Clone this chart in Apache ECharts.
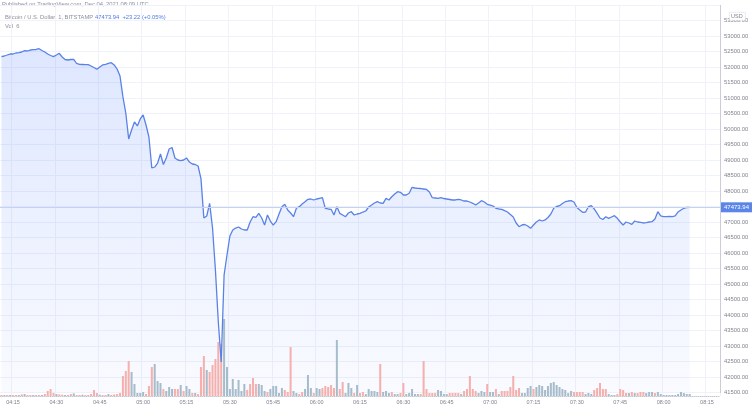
<!DOCTYPE html>
<html><head><meta charset="utf-8">
<script src="https://cdn.jsdelivr.net/npm/echarts@6/dist/echarts.min.js"></script>
<style>html,body{margin:0;padding:0;background:#fff}#c{width:755px;height:413px}</style>
</head><body><div id="c"></div>
<script>
// ---- data ----
const startMinute = '04:11';
const endMinute = '08:19';
const tickLabels = ['04:15','04:30','04:45','05:00','05:15','05:30','05:45','06:00','06:15','06:30','06:45','07:00','07:15','07:30','07:45','08:00','08:15'];
const priceTicks = {min: 41500, max: 54000, step: 500};
const lastPrice = 47473.94;

const closes = [
52333,52355,52387,52419,52419,52452,52461,52484,52526,52516,
52548,52558,52565,52590,52532,52484,52419,52371,52333,52387,
52442,52323,52242,52226,52242,52248,52113,52087,52081,52074,
52074,52032,51984,51926,52000,52065,52087,52113,52139,52065,
51935,51710,51042,50516,49677,49968,50226,50097,50323,50452,
50129,49742,48742,48774,48903,49194,48855,49065,49355,49403,
49065,49000,48977,49000,49065,48935,48871,48855,48806,48400,
47129,47194,47600,46806,45452,43774,42484,45290,45935,46548,
46742,46806,46839,46774,46742,46742,47000,47171,47150,47280,
47129,46903,47226,47032,46903,47010,47258,47494,47571,47387,
47290,47171,47442,47494,47580,47655,47732,47742,47710,47742,
47764,47784,47442,47420,47410,47226,47494,47280,47226,47171,
47290,47332,47226,47258,47280,47322,47355,47484,47548,47613,
47655,47613,47603,47764,47710,47816,47903,47978,47958,47871,
47871,47926,48119,48097,48087,48080,48065,48050,47968,47784,
47774,47764,47784,47758,47742,47726,47710,47710,47732,47710,
47677,47677,47645,47603,47548,47613,47687,47645,47571,47548,
47516,47442,47420,47410,47365,47323,47242,47161,46968,46848,
46903,46919,46871,46796,46903,47000,47065,47032,47065,47145,
47258,47442,47500,47526,47597,47655,47677,47687,47645,47468,
47387,47313,47322,47494,47526,47420,47280,47129,47081,47171,
47119,47161,47203,47119,47000,46903,47000,46968,46925,47032,
47000,46990,46968,46977,47000,47010,47097,47332,47194,47171,
47171,47178,47171,47194,47323,47387,47442,47468,47473.94
];

const volumes = [
3,3,3,3,3,3,3,5,6,3,
3,3,3,3,3,6,15,21,9,6,
5,4,3,3,6,8,3,3,4,3,
3,6,18,9,4,3,3,6,3,5,
6,9,60,75,105,72,36,9,9,12,
6,30,87,96,45,39,21,15,27,21,
21,21,33,15,30,21,9,9,6,87,
120,78,72,93,111,162,156,231,87,21,
51,21,48,15,36,18,36,54,36,36,
33,15,12,21,30,30,9,24,18,12,
147,15,9,6,12,21,63,24,9,24,
21,24,30,27,33,24,168,21,42,9,
39,24,9,33,9,12,6,21,15,15,
12,96,12,15,9,12,6,6,9,39,
6,9,21,6,6,6,105,21,9,9,
9,18,15,6,6,9,9,9,9,6,
15,21,60,21,15,9,15,12,36,12,
12,21,6,15,15,15,27,60,18,24,
9,9,24,30,21,27,33,30,18,30,
39,42,33,27,21,18,9,15,12,12,
12,12,6,9,6,18,24,39,21,21,
6,3,3,6,21,18,9,9,12,9,
9,12,12,9,12,12,9,12,6,3,
3,3,3,3,6,12,9,6,6
];

const volDir = [
'd','u','d','u','d','d','u','d','u','d',
'd','u','d','d','u','d','d','d','d','u',
'd','d','u','d','d','u','d','d','u','d',
'd','d','d','d','u','d','d','u','d','d',
'd','d','d','d','d','u','u','u','u','u',
'd','d','d','u','u','u','d','u','u','u',
'd','d','u','d','u','u','d','u','d','d',
'd','u','d','d','d','d','d','u','u','u',
'u','u','u','u','u','d','d','d','d','u',
'u','u','d','u','u','u','u','u','d','d',
'd','u','u','d','d','u','u','u','d','u',
'u','d','d','d','d','d','u','d','d','u',
'u','u','d','u','d','d','u','u','u','u',
'u','d','u','u','u','d','u','u','d','d',
'u','u','u','u','u','d','d','d','d','d',
'd','u','u','u','u','d','d','d','d','u',
'd','d','d','d','d','u','u','u','d','u',
'u','d','u','d','d','d','d','d','d','d',
'u','u','u','u','d','u','u','u','u','u',
'u','u','u','u','u','u','u','u','d','d',
'd','d','u','u','u','d','d','d','d','d',
'u','u','u','d','d','d','d','u','d','u',
'd','d','d','u','u','u','d','u','u','u',
'u','u','u','u','u','u','u','u','u'
];

// ---- build ----
function toMin(s){const p=s.split(':');return +p[0]*60+ +p[1];}
const cats=[];
for(let m=toMin(startMinute);m<=toMin(endMinute);m++){
  cats.push(String(Math.floor(m/60)).padStart(2,'0')+':'+String(m%60).padStart(2,'0'));
}
const isTick=(i,v)=>tickLabels.indexOf(v)>=0;
const UP='#a7bccb', DOWN='#f5afad';
const volData=volumes.map((v,i)=>({value:v,itemStyle:{color:volDir[i]==='u'?UP:DOWN}}));

const FONT='"Liberation Sans", Arial, sans-serif';
const TXT='#80838f';

const chart=echarts.init(document.getElementById('c'),null,{renderer:'canvas'});
chart.setOption({
  animation:false,
  backgroundColor:'#ffffff',
  textStyle:{fontFamily:FONT},
  grid:[
    {left:0,right:35,top:5,bottom:20.5},
    {left:0,right:35,top:5,bottom:17}
  ],
  xAxis:[
    {gridIndex:0,type:'category',data:cats,boundaryGap:true,show:false},
    {gridIndex:1,type:'category',data:cats,boundaryGap:true,
     axisLine:{show:true,lineStyle:{color:'#c6c9d3',type:'dotted'}},
     axisTick:{show:false},
     axisLabel:{interval:isTick,color:TXT,fontSize:5.5,margin:3,fontFamily:FONT},
     splitLine:{show:true,interval:isTick,lineStyle:{color:'#f0f2f9',width:1}}}
  ],
  yAxis:[
    {gridIndex:0,type:'value',position:'right',min:priceTicks.min,max:priceTicks.max,interval:priceTicks.step,
     axisLine:{show:true,lineStyle:{color:'#c6c9d3',type:'dotted'}},
     axisTick:{show:false},
     splitLine:{show:true,lineStyle:{color:'#f0f2f9',width:1}},
     axisLabel:{color:TXT,fontSize:5.8,margin:4,showMaxLabel:false,fontFamily:FONT,formatter:v=>v.toFixed(2)}},
    {gridIndex:1,type:'value',min:0,max:1173,show:false,splitLine:{show:false}}
  ],
  series:[
    {type:'line',name:'area',xAxisIndex:0,yAxisIndex:0,data:closes,symbol:'none',z:1,
     lineStyle:{width:0,opacity:0},
     areaStyle:{origin:'start',color:new echarts.graphic.LinearGradient(0,0,0,1,[
       {offset:0,color:'rgba(41,98,255,0.22)'},{offset:1,color:'rgba(41,98,255,0.04)'}])},
     silent:true},
    {type:'bar',xAxisIndex:1,yAxisIndex:1,data:volData,barWidth:'70%',z:2,silent:true},
    {type:'line',name:'price',xAxisIndex:0,yAxisIndex:0,data:closes,symbol:'none',z:3,
     lineStyle:{color:'#5a82e6',width:1.3},
     markLine:{silent:true,symbol:'none',
       data:[{yAxis:lastPrice}],
       lineStyle:{color:'#c4d2f6',type:'solid',width:1},
       label:{position:'end',distance:1,formatter:lastPrice.toFixed(2),backgroundColor:'#5b86e8',
              color:'#ffffff',fontSize:6,padding:[2,3,2,3],fontFamily:FONT}}}
  ],
  graphic:[
    {type:'text',left:2,top:1,style:{text:'Published on TradingView.com, Dec 04, 2021 08:09 UTC',fill:'#8d909b',font:'5.8px '+FONT}},
    {type:'text',left:5,top:14,style:{text:'Bitcoin / U.S. Dollar, 1, BITSTAMP',fill:'#8d909b',font:'5.8px '+FONT}},
    {type:'text',left:95,top:14,style:{text:'47473.94  +23.22 (+0.05%)',fill:'#4f7be6',font:'5.8px '+FONT}},
    {type:'text',left:5,top:23,style:{text:'Vol  6',fill:'#8d909b',font:'5.8px '+FONT}},
    {type:'rect',left:729,top:12,shape:{width:16,height:8},style:{fill:'#ffffff',stroke:'#c6c9d3',lineDash:[1,1],lineWidth:0.7},z:100},
    {type:'text',left:731,top:13.5,style:{text:'USD',fill:TXT,font:'5.5px '+FONT},z:101}
  ]
});
</script>
</body></html>
